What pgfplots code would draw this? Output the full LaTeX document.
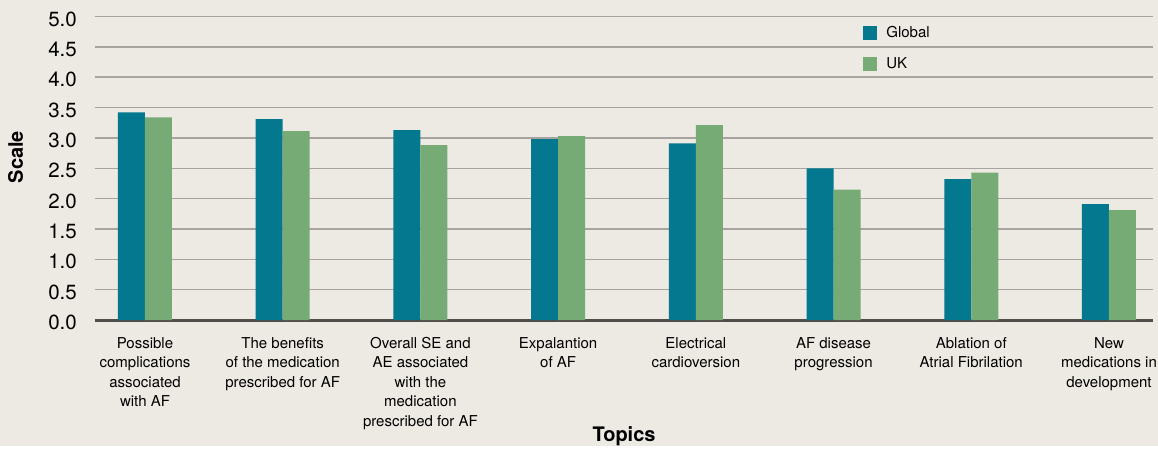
\documentclass[border=0pt]{standalone}
\usepackage{pgfplots}
\pgfplotsset{compat=1.18}
\usepackage{fontspec}
\setmainfont{TeX Gyre Heros}

\definecolor{bgc}{RGB}{237,233,227}
\definecolor{globalc}{RGB}{4,120,143}
\definecolor{ukc}{RGB}{119,171,118}
\definecolor{gridc}{RGB}{168,163,158}
\definecolor{axisc}{RGB}{80,77,74}

\begin{document}
\begin{tikzpicture}
% page background
\fill[bgc] (-95pt,-126pt) rectangle (1063pt,320pt);
\begin{axis}[
  at={(0pt,0pt)}, anchor=south west,
  scale only axis, width=1058pt, height=303.5pt,
  ymin=0, ymax=5, ytick={0,0.5,...,5},
  xmin=-0.363, xmax=7.32,
  xtick={0,...,7},
  xticklabels={
    {Possible\\complications\\associated\\with AF},
    {The benefits\\of the medication\\prescribed for AF},
    {Overall SE and\\AE associated\\with the\\medication\\prescribed for AF},
    {Expalantion\\of AF},
    {Electrical\\cardioversion},
    {AF disease\\progression},
    {Ablation of\\Atrial Fibrilation},
    {New\\medications in\\development}},
  axis x line*=bottom, axis y line*=left,
  x axis line style={axisc, line width=3pt, -},
  y axis line style={draw=none},
  major tick length=0pt,
  ymajorgrids, grid style={gridc, line width=1.5pt},
  /pgf/number format/assume math mode=true,
  yticklabel style={font=\fontsize{20.5}{24}\selectfont, anchor=east, inner sep=0pt, xshift=-18pt, yshift=-2.5pt,
    /pgf/number format/.cd, fixed, fixed zerofill, precision=1},
  xticklabel style={font=\fontsize{15}{19.5}\selectfont, align=center, anchor=north, inner sep=0pt, yshift=-17pt},
  xlabel={\bfseries Topics}, ylabel={\bfseries Scale},
  xlabel style={font=\fontsize{20}{24}\selectfont, at={(axis description cs:0.5,0)}, anchor=center, yshift=-116pt},
  ylabel style={font=\fontsize{20}{24}\selectfont, at={(axis description cs:0,0.537)}, anchor=center, yshift=79.5pt},
  ybar=0pt, bar width=27pt,
  legend style={at={(axis description cs:0.726,0.975)}, anchor=north west, draw=none, fill=none,
    inner sep=0pt, row sep=15pt, column sep=7pt, font=\fontsize{15}{18}\selectfont, cells={anchor=west}},
  legend image code/.code={\fill[#1] (0pt,-7pt) rectangle (14pt,7pt);},
]
\addplot[fill=globalc, draw=none] coordinates {
  (0,3.42) (1,3.31) (2,3.13) (3,2.98) (4,2.91) (5,2.50) (6,2.32) (7,1.91)};
\addplot[fill=ukc, draw=none] coordinates {
  (0,3.34) (1,3.11) (2,2.88) (3,3.03) (4,3.21) (5,2.15) (6,2.43) (7,1.81)};
\legend{Global, UK}
\end{axis}
\end{tikzpicture}
\end{document}
